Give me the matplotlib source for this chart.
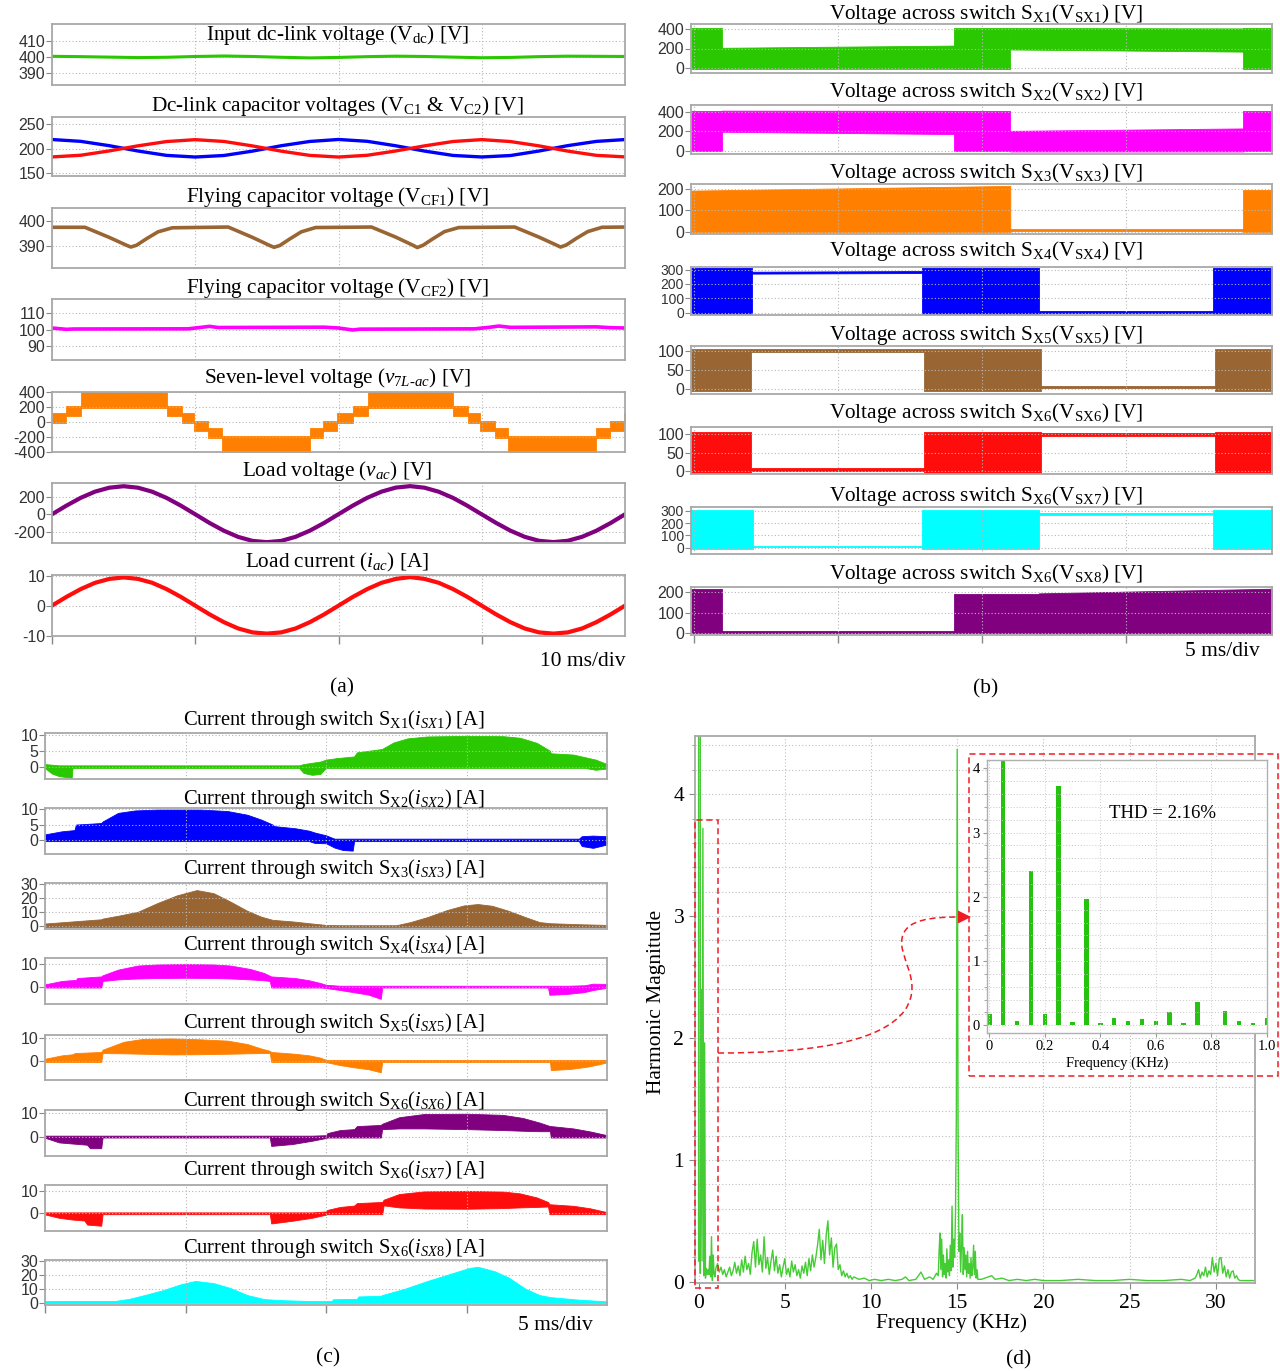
import numpy as np
import matplotlib
matplotlib.use("Agg")
import matplotlib.pyplot as plt
from matplotlib.patches import Rectangle, PathPatch, Polygon
from matplotlib.path import Path
from matplotlib.ticker import MultipleLocator

plt.rcParams["font.family"] = ["Liberation Serif", "DejaVu Serif"]
plt.rcParams["mathtext.fontset"] = "custom"
plt.rcParams["mathtext.rm"] = "Liberation Serif"
plt.rcParams["mathtext.it"] = "Liberation Serif:italic"
plt.rcParams["mathtext.bf"] = "Liberation Serif:bold"

W, H = 1280, 1371

GREEN = "#2ac800"
BLUE = "#0000ff"
RED = "#ff0d0d"
BROWN = "#996633"
MAGENTA = "#ff00ff"
ORANGE = "#ff8000"
PURPLE = "#800080"
CYAN = "#00ffff"

#--------------------------------------------------------------------#
# (a) converter waveforms, time in ms
t_2ms = np.arange(0, 40.1, 2.0)
t_1ms = np.arange(0, 40.1, 1.0)

vdc = [400.3, 400.1, 399.8, 399.5, 399.7, 400.2, 400.5, 400.2, 399.7, 399.3, 399.6,
       400.1, 400.4, 400.2, 399.8, 399.4, 399.6, 400.1, 400.4, 400.3, 400.2]

vc1 = [218.5, 214.8, 206.0, 195.2, 186.3, 183.0, 186.1, 195.0, 205.9, 214.6, 218.6,
       214.9, 205.8, 195.1, 186.2, 183.1, 186.0, 195.2, 206.1, 214.7, 218.4]
vc2 = [183.2, 186.6, 195.4, 205.7, 214.4, 218.2, 214.6, 205.5, 194.9, 186.3, 183.0,
       186.5, 195.3, 205.6, 214.5, 218.3, 214.4, 205.6, 195.0, 186.4, 183.3]

vcf1_t = [0, 2.3, 4.0, 5.2, 5.5, 5.9, 6.6, 7.4, 8.4, 12.3, 14.0, 15.2, 15.5, 15.9, 16.6,
          17.4, 18.4, 22.3, 24.0, 25.2, 25.5, 25.9, 26.6, 27.4, 28.4, 32.3, 34.0, 35.2,
          35.5, 35.9, 36.6, 37.4, 38.4, 40.0]
vcf1 = [397.4, 397.4, 393.4, 390.3, 389.6, 390.3, 392.9, 395.6, 397.2, 397.5, 393.4,
        390.2, 389.5, 390.2, 392.8, 395.6, 397.3, 397.5, 393.5, 390.3, 389.4, 390.3,
        392.9, 395.7, 397.3, 397.5, 393.5, 390.4, 389.6, 390.4, 393.0, 395.7, 397.4, 397.5]

vcf2_t = [0, 1.0, 1.5, 9.5, 10.2, 11.0, 11.6, 19.0, 20.0, 21.0, 21.5, 29.5, 30.5, 31.2,
          32.0, 38.0, 39.0, 40.0]
vcf2 = [101.0, 100.2, 100.4, 100.5, 101.2, 102.0, 101.3, 101.5, 101.0, 99.8, 100.3,
        100.5, 101.4, 102.2, 101.4, 101.7, 101.2, 101.0]

# seven-level output: each step is a PWM band between two levels
v7l_edges = [0.0, 1.0, 2.05, 8.0, 9.05, 9.9, 10.9, 11.9, 18.0, 18.95, 19.9, 21.0, 22.05,
             28.0, 29.05, 29.9, 30.9, 31.85, 38.0, 38.95, 39.9, 40.0]
v7l_lo = [-12, 80, 195, 80, -12, -120, -220, -400, -220, -120, -12, 80, 195, 80, -12,
          -120, -220, -400, -220, -120, -12]
v7l_hi = [120, 220, 400, 220, 120, 12, -80, -190, -80, 12, 120, 220, 400, 220, 120, 12,
          -80, -190, -80, 12, 120]

vac = [0, 100, 191, 263, 309, 326, 309, 262, 190, 100, 0, -101, -191, -263, -309, -324,
       -309, -262, -190, -100, 1, 101, 191, 263, 310, 327, 309, 262, 190, 99, -1, -100,
       -190, -262, -308, -323, -308, -262, -191, -101, 0]
iac = [0, 2.9, 5.5, 7.6, 8.9, 9.4, 8.9, 7.6, 5.5, 2.9, 0, -2.9, -5.5, -7.6, -8.9, -9.3,
       -8.9, -7.6, -5.5, -2.9, 0, 2.9, 5.5, 7.6, 8.9, 9.5, 8.9, 7.6, 5.5, 2.9, 0, -2.9,
       -5.5, -7.6, -8.9, -9.3, -8.9, -7.6, -5.5, -2.9, 0]

#--------------------------------------------------------------------#
# (b) switch voltages: segment edges (ms) and (start, end) of lower/upper envelope (V)
vsx1_edges = [-0.11, 0.95, 9.03, 10.98, 19.08, 20.07]
vsx1_lo = [(-8, -8), (-8, -8), (-8, -8), (190, 168), (-8, -8)]
vsx1_hi = [(408, 408), (207, 230), (410, 410), (410, 406), (406, 406)]

vsx2_edges = [-0.11, 0.95, 9.03, 10.98, 19.08, 20.07]
vsx2_lo = [(-8, -8), (194, 170), (-8, -8), (-8, -8), (-8, -8)]
vsx2_hi = [(408, 408), (410, 408), (408, 408), (203, 228), (408, 408)]

vsx3_edges = [-0.11, 10.98, 19.08, 20.07]
vsx3_lo = [(-3, -3), (4, 4), (-3, -3)]
vsx3_hi = [(192, 214), (12, 12), (196, 196)]

vsx4_edges = [-0.11, 2.02, 7.92, 11.97, 18.01, 20.07]
vsx4_lo = [(-6, -6), (272, 276), (-6, -6), (0, 0), (-6, -6)]
vsx4_hi = [(312, 312), (285, 290), (312, 312), (10, 10), (312, 312)]

vsx5_edges = [-0.11, 1.98, 7.99, 12.04, 18.08, 20.07]
vsx5_lo = [(-4, -4), (96, 96), (-4, -4), (2, 2), (-4, -4)]
vsx5_hi = [(104, 104), (104, 104), (104, 104), (8, 8), (104, 104)]

vsx6_edges = [-0.11, 1.98, 7.99, 12.04, 18.08, 20.07]
vsx6_lo = [(-4, -4), (1, 1), (-4, -4), (94, 94), (-4, -4)]
vsx6_hi = [(105, 105), (8, 8), (105, 105), (104, 104), (105, 105)]

vsx7_edges = [-0.11, 2.06, 7.92, 11.97, 18.01, 20.07]
vsx7_lo = [(-10, -10), (4, 4), (-10, -10), (268, 270), (-10, -10)]
vsx7_hi = [(310, 310), (18, 18), (310, 310), (284, 284), (310, 310)]

vsx8_edges = [-0.11, 0.95, 9.03, 11.97, 20.07]
vsx8_lo = [(-3, -3), (0, 0), (-3, -3), (-3, -3)]
vsx8_hi = [(216, 216), (8, 8), (193, 193), (195, 218)]

#--------------------------------------------------------------------#
# (c) switch currents: envelope keypoints (ms, A)
isx1_t = [0.0, 0.25, 0.5, 0.95, 0.98, 9.04, 9.2, 9.5, 9.8, 10.0, 10.4, 11.0, 11.1, 11.95,
          12.0, 12.4, 12.9, 13.6, 15.0, 16.3, 16.9, 17.5, 17.97, 18.0, 18.8, 19.2, 19.6, 20.0]
isx1_up = [0.8, 0.6, 0.4, 0.4, 0.4, 0.4, 0.8, 1.2, 1.6, 2.2, 2.7, 3.2, 4.5, 5.5, 5.6, 7.6,
           8.9, 9.5, 9.7, 9.6, 9.1, 7.5, 5.0, 4.2, 3.8, 3.0, 2.2, 0.8]
isx1_lo = [-0.5, -2.2, -3.0, -3.5, -0.4, -0.4, -2.0, -2.6, -2.3, -0.4, -0.4, -0.4, -0.4,
           -0.4, -0.4, -0.4, -0.4, -0.4, -0.4, -0.4, -0.4, -0.4, -0.4, -0.4, -0.4, -0.4,
           -1.0, -0.6]

isx2_t = [0.0, 0.6, 1.05, 1.1, 2.0, 2.05, 2.6, 3.2, 4.0, 5.5, 6.5, 7.2, 7.7, 8.1, 8.15,
          8.9, 9.4, 9.6, 10.0, 10.3, 10.6, 10.95, 11.0, 19.0, 19.1, 19.5, 20.0]
isx2_up = [1.8, 2.8, 3.2, 5.0, 5.5, 6.0, 8.8, 9.6, 9.9, 9.9, 9.4, 8.2, 6.6, 5.0, 4.5, 3.8,
           3.0, 2.4, 1.5, 0.4, 0.4, 0.4, 0.4, 0.4, 1.2, 1.4, 1.2]
isx2_lo = [-0.4, -0.4, -0.4, -0.4, -0.4, -0.4, -0.4, -0.4, -0.4, -0.4, -0.4, -0.4, -0.4,
           -0.4, -0.4, -0.4, -0.4, -1.0, -1.1, -2.5, -3.3, -3.5, -0.4, -0.4, -2.0, -2.6, -1.5]

isx3_t = [0.0, 1.0, 2.0, 2.05, 2.6, 3.3, 4.0, 4.7, 5.4, 6.0, 6.6, 7.2, 7.7, 8.1, 8.8, 9.5,
          10.0, 10.5, 12.5, 13.0, 13.6, 14.3, 14.9, 15.4, 15.9, 16.5, 17.1, 17.6, 18.0,
          19.0, 20.0]
isx3_up = [2.0, 3.5, 5.0, 5.5, 7.5, 10.3, 16.5, 22.0, 25.7, 23.5, 17.5, 11.0, 6.8, 4.6,
           3.5, 2.0, 1.0, 0.8, 0.8, 3.0, 6.5, 11.5, 14.8, 15.8, 14.6, 11.0, 6.5, 3.0, 2.2,
           1.5, 1.0]
isx3_lo = -0.4

isx4_t = [0.0, 0.6, 1.1, 1.15, 2.0, 2.05, 2.6, 3.3, 4.0, 5.0, 6.0, 6.6, 7.3, 7.8, 8.0,
          8.05, 8.9, 9.4, 9.8, 10.0, 10.5, 11.0, 11.5, 11.95, 12.0, 17.9, 17.95, 18.6,
          19.2, 19.5, 20.0]
isx4_up = [1.0, 2.5, 3.0, 3.8, 4.5, 5.0, 7.5, 9.3, 9.8, 10.0, 9.8, 9.3, 7.8, 6.0, 4.8,
           4.5, 3.8, 2.8, 1.6, 0.8, 0.4, 0.4, 0.4, 0.4, 0.4, 0.4, 0.4, 0.4, 0.6, 1.3, 1.2]
isx4_lo = [-0.4, -0.4, -0.4, -0.4, -0.4, 2.5, 3.2, 3.6, 3.8, 3.9, 3.8, 3.6, 3.2, 2.8, 2.5,
           -0.4, -0.4, -0.4, -0.4, -0.6, -1.5, -2.5, -3.5, -5.4, -0.4, -0.4, -3.6, -3.2,
           -2.4, -1.5, -0.5]

isx5_t = [0.0, 0.6, 1.0, 1.05, 2.0, 2.05, 2.8, 3.5, 4.5, 5.5, 6.5, 7.2, 7.7, 8.0, 8.05,
          8.9, 9.4, 9.8, 10.0, 10.5, 11.0, 11.5, 11.95, 12.0, 17.97, 18.0, 18.7, 19.3,
          19.7, 20.0]
isx5_up = [1.0, 2.5, 3.0, 3.5, 4.0, 5.0, 8.5, 9.8, 10.0, 9.6, 9.0, 7.5, 5.5, 4.5, 4.0,
           3.2, 2.5, 1.5, 0.5, 0.4, 0.4, 0.4, 0.4, 0.4, 0.4, 0.4, 0.4, 0.4, 0.4, 0.5]
isx5_lo = [-0.4, -0.4, -0.4, -0.4, -0.4, 3.5, 3.4, 3.2, 2.9, 3.0, 3.2, 3.4, 3.5, 3.5,
           -0.4, -0.4, -0.4, -0.4, -0.5, -1.8, -2.8, -3.6, -5.0, -0.4, -0.4, -4.0, -3.5,
           -2.5, -1.5, -0.6]

isx6_t = [0.0, 0.5, 1.0, 1.5, 1.6, 2.0, 2.05, 8.0, 8.05, 8.8, 9.5, 10.0, 10.05, 10.5,
          11.0, 11.1, 11.95, 12.0, 12.6, 13.5, 15.0, 16.3, 17.0, 17.6, 17.97, 18.0, 18.8,
          19.4, 20.0]
isx6_up = [0.4, 0.4, 0.4, 0.4, 0.4, 0.4, 0.4, 0.4, 0.4, 0.4, 0.4, 0.6, 1.5, 2.8, 3.2,
           4.5, 5.0, 5.5, 8.3, 9.7, 9.8, 9.3, 8.0, 6.0, 4.5, 4.5, 3.5, 2.2, 0.6]
isx6_lo = [-0.5, -2.5, -3.0, -3.5, -5.0, -5.0, -0.4, -0.4, -4.0, -3.2, -1.8, -0.6, -0.4,
           -0.4, -0.4, -0.4, -0.4, 3.2, 3.5, 3.5, 3.2, 2.8, 2.5, 2.3, 2.3, -0.4, -0.4,
           -0.4, -0.4]

isx7_t = [0.0, 0.5, 1.0, 1.4, 1.5, 2.0, 2.05, 8.0, 8.05, 8.8, 9.5, 10.0, 10.05, 10.5,
          11.0, 11.1, 12.0, 12.05, 12.6, 13.5, 15.0, 16.3, 16.9, 17.5, 17.9, 17.95, 18.8,
          19.4, 20.0]
isx7_up = [0.4, 0.4, 0.4, 0.4, 0.4, 0.4, 0.4, 0.4, 0.4, 0.4, 0.4, 0.8, 1.5, 2.8, 3.4,
           4.5, 5.0, 6.0, 8.5, 9.7, 9.9, 9.6, 8.8, 7.0, 5.0, 4.0, 3.3, 2.2, 0.5]
isx7_lo = [-0.5, -2.0, -2.8, -3.2, -5.0, -5.5, -0.4, -0.4, -4.5, -3.3, -2.0, -0.6, -0.4,
           -0.4, -0.4, -0.4, -0.4, 3.5, 2.6, 2.1, 2.0, 2.3, 2.6, 2.8, 3.0, -0.4, -0.4,
           -0.4, -0.4]

isx8_t = [0.0, 2.5, 3.0, 3.6, 4.2, 4.8, 5.35, 6.0, 6.6, 7.2, 7.8, 8.5, 9.5, 10.2, 10.25,
          11.1, 11.15, 11.95, 12.0, 12.8, 13.6, 14.4, 15.1, 15.4, 16.0, 16.5, 17.1, 17.6,
          18.0, 19.0, 20.0]
isx8_up = [1.2, 1.3, 2.8, 5.8, 9.0, 13.0, 15.6, 14.0, 10.5, 5.5, 2.6, 1.8, 1.2, 1.2, 2.5,
           2.8, 4.5, 5.0, 5.5, 10.0, 15.5, 20.5, 24.8, 25.7, 22.5, 18.0, 10.0, 5.5, 4.0,
           2.2, 1.0]
isx8_lo = -0.3

#--------------------------------------------------------------------#
# (d) output voltage spectrum (kHz, harmonic magnitude)
harm_freq = [0.0, 0.05, 0.10, 0.15, 0.20, 0.25, 0.30, 0.35, 0.40, 0.45, 0.50, 0.55,
             0.60, 0.65, 0.70, 0.75, 0.80, 0.85, 0.90, 0.95, 1.00]
harm_mag = [0.17, 325.0, 0.07, 2.40, 0.17, 3.72, 0.05, 1.96, 0.03, 0.11, 0.06, 0.10,
            0.06, 0.21, 0.04, 0.37, 0.01, 0.22, 0.06, 0.04, 0.11]

band1_freq = np.arange(1.1, 9.01, 0.1)
band1_mag = [0.15, 0.08, 0.12, 0.06, 0.10, 0.04, 0.08, 0.12, 0.05,
             0.09, 0.16, 0.07, 0.13, 0.05, 0.18, 0.08, 0.21, 0.10, 0.15,
             0.06, 0.24, 0.33, 0.12, 0.35, 0.14, 0.22, 0.08, 0.37, 0.11,
             0.20, 0.06, 0.17, 0.26, 0.09, 0.21, 0.07, 0.14, 0.04, 0.12,
             0.19, 0.06, 0.11, 0.04, 0.17, 0.08, 0.14, 0.05, 0.10, 0.03,
             0.13, 0.07, 0.16, 0.05, 0.19, 0.09, 0.22, 0.12, 0.20, 0.30,
             0.43, 0.18, 0.34, 0.15, 0.38, 0.50, 0.22, 0.36, 0.12, 0.28,
             0.31, 0.10, 0.14, 0.05, 0.09, 0.04, 0.07, 0.03, 0.05, 0.02,
             0.04]

floor_freq = [9.3, 9.6, 9.9, 10.2, 10.6, 11.0, 11.4, 11.8, 12.0, 12.2, 12.6, 12.9, 13.1,
              13.4, 13.6, 13.8]
floor_mag = [0.02, 0.03, 0.01, 0.02, 0.01, 0.02, 0.01, 0.02, 0.04, 0.01, 0.02, 0.08, 0.02,
             0.04, 0.02, 0.07]

band2_freq = np.arange(13.9, 16.21, 0.05)
band2_mag = [0.05, 0.25, 0.40, 0.10, 0.35, 0.04, 0.22, 0.06, 0.15, 0.03,
             0.27, 0.08, 0.18, 0.05, 0.30, 0.09, 0.62, 0.12, 0.35, 0.20,
             0.55, 1.35, 4.37, 1.30, 0.25, 0.40, 0.08, 0.30, 0.55, 0.06,
             0.28, 0.10, 0.22, 0.04, 0.25, 0.07, 0.15, 0.03, 0.20, 0.05,
             0.12, 0.30, 0.06, 0.25, 0.03, 0.10, 0.02]

tail_freq = [16.4, 16.8, 17.0, 17.2, 17.6, 18.0, 18.5, 19.0, 19.5, 20.0, 21.0, 22.0, 23.0,
             24.0, 25.0, 26.0, 27.0, 28.0, 28.5]
tail_mag = [0.02, 0.04, 0.05, 0.02, 0.03, 0.01, 0.02, 0.01, 0.02, 0.01, 0.01, 0.02, 0.01,
            0.01, 0.02, 0.01, 0.01, 0.02, 0.01]

band3_freq = np.arange(28.8, 31.41, 0.1)
band3_mag = [0.03, 0.06, 0.10, 0.03, 0.08, 0.05, 0.12, 0.04, 0.09, 0.06,
             0.20, 0.08, 0.15, 0.05, 0.19, 0.20, 0.07, 0.13, 0.04, 0.10,
             0.03, 0.08, 0.09, 0.03, 0.05, 0.02, 0.01]

end_freq = [31.6, 32.2]
end_mag = [0.01, 0.01]

#--------------------------------------------------------------------#

fig = plt.figure(figsize=(W / 100, H / 100), dpi=100, facecolor="white")


def px_rect(x0, y0, x1, y1):
    return [x0 / W, 1 - y1 / H, (x1 - x0) / W, (y1 - y0) / H]


def fxy(x, y):
    return (x / W, 1 - y / H)


def trace_axes(x0, y0, x1, y1, xlim, ylim, yticks, xticks, bottom=False, tsize=11.5):
    ax = fig.add_axes(px_rect(x0, y0, x1, y1))
    ax.set_xlim(*xlim)
    ax.set_ylim(*ylim)
    ax.set_yticks(yticks)
    ax.set_yticklabels([str(v) for v in yticks], family="Liberation Sans",
                       fontsize=tsize, color="#333333")
    ax.set_xticks(xticks)
    ax.grid(True, ls=(0, (1, 2)), color="#b8b8b8", lw=0.8)
    ax.tick_params(axis="y", length=4, width=0.8, color="#888888", pad=1)
    ax.tick_params(axis="x", labelbottom=False, length=6 if bottom else 0,
                   width=1.0, color="#888888")
    for s in ax.spines.values():
        s.set_color("#a8a8a8")
        s.set_linewidth(1.3)
    return ax


def title(x, y, s, size=15.3):
    fig.text(x / W, 1 - y / H, s, ha="center", va="center", fontsize=size)


def draw_segments(ax, edges, lo, hi, color):
    for i in range(len(edges) - 1):
        ax.fill_between([edges[i], edges[i + 1]], lo[i], hi[i],
                        color=color, lw=0.6, ec=color)


#--------------------------------------------------------------------#
# panel (a)
AX0, AX1 = 52, 625
grid_a = [0, 10, 20, 30]
xl_a = (0, 40)

ax = trace_axes(AX0, 24.3, AX1, 85, xl_a, (382.2, 420.5), [410, 400, 390], grid_a)
ax.plot(t_2ms, vdc, color=GREEN, lw=2.2)
title(337, 35, r"Input dc-link voltage (V$_{\rm dc}$) [V]")

ax = trace_axes(AX0, 116.7, AX1, 176, xl_a, (144.5, 264.8), [250, 200, 150], grid_a)
ax.plot(t_2ms, vc1, color=BLUE, lw=2.4)
ax.plot(t_2ms, vc2, color=RED, lw=2.4)
title(337, 106, r"Dc-link capacitor voltages (V$_{\rm C1}$ & V$_{\rm C2}$) [V]")

ax = trace_axes(AX0, 208.3, AX1, 268.3, xl_a, (381.2, 404.9), [400, 390], grid_a)
ax.plot(vcf1_t, vcf1, color=BROWN, lw=2.6)
title(337, 197, r"Flying capacitor voltage (V$_{\rm CF1}$) [V]")

ax = trace_axes(AX0, 299.3, AX1, 360, xl_a, (81.5, 118.5), [110, 100, 90], grid_a)
ax.plot(vcf2_t, vcf2, color=MAGENTA, lw=2.6)
title(337, 288, r"Flying capacitor voltage (V$_{\rm CF2}$) [V]")

ax = trace_axes(AX0, 391.7, AX1, 451.7, xl_a, (-400, 408),
                [400, 200, 0, -200, -400], grid_a)
for i in range(len(v7l_edges) - 1):
    ax.fill_between([v7l_edges[i], v7l_edges[i + 1]], v7l_lo[i], v7l_hi[i],
                    color=ORANGE, lw=0.6, ec=ORANGE)
title(337, 378, r"Seven-level voltage ($v_{7L\text{-}ac}$) [V]")

ax = trace_axes(AX0, 483.3, AX1, 543.3, xl_a, (-337, 360), [200, 0, -200], grid_a)
ax.plot(t_1ms, vac, color=PURPLE, lw=3.0)
title(337, 471, r"Load voltage ($v_{ac}$) [V]")

ax = trace_axes(AX0, 575, AX1, 635.7, xl_a, (-10, 10.2), [10, 0, -10], grid_a,
                bottom=True)
ax.plot(t_1ms, iac, color=RED, lw=3.0)
title(337, 562, r"Load current ($i_{ac}$) [A]")

fig.text(625 / W, 1 - 661 / H, "10 ms/div", ha="right", va="center", fontsize=15.5)
fig.text(342 / W, 1 - 688 / H, "(a)", ha="center", va="center", fontsize=15.5)

#--------------------------------------------------------------------#
# panel (b)
BX0, BX1 = 691, 1272
grid_b = [0, 5, 10, 15]
xl_b = (-0.11, 20.07)

rows_b = [
    (24, 73, (-51, 451), [400, 200, 0], vsx1_edges, vsx1_lo, vsx1_hi, GREEN, 14,
     r"Voltage across switch S$_{\rm X1}$(V$_{\rm SX1}$) [V]"),
    (105, 154, (-34, 468), [400, 200, 0], vsx2_edges, vsx2_lo, vsx2_hi, MAGENTA, 92,
     r"Voltage across switch S$_{\rm X2}$(V$_{\rm SX2}$) [V]"),
    (184, 234, (-11, 223), [200, 100, 0], vsx3_edges, vsx3_lo, vsx3_hi, ORANGE, 173,
     r"Voltage across switch S$_{\rm X3}$(V$_{\rm SX3}$) [V]"),
    (267, 315, (-16, 318), [300, 200, 100, 0], vsx4_edges, vsx4_lo, vsx4_hi, BLUE, 251,
     r"Voltage across switch S$_{\rm X4}$(V$_{\rm SX4}$) [V]"),
    (345.7, 394, (-13, 113), [100, 50, 0], vsx5_edges, vsx5_lo, vsx5_hi, BROWN, 335,
     r"Voltage across switch S$_{\rm X5}$(V$_{\rm SX5}$) [V]"),
    (426.7, 474, (-7, 120), [100, 50, 0], vsx6_edges, vsx6_lo, vsx6_hi, RED, 413,
     r"Voltage across switch S$_{\rm X6}$(V$_{\rm SX6}$) [V]"),
    (506.7, 554, (-51, 335), [300, 200, 100, 0], vsx7_edges, vsx7_lo, vsx7_hi, CYAN, 496,
     r"Voltage across switch S$_{\rm X6}$(V$_{\rm SX7}$) [V]"),
    (586.7, 635, (-11, 228), [200, 100, 0], vsx8_edges, vsx8_lo, vsx8_hi, PURPLE, 574,
     r"Voltage across switch S$_{\rm X6}$(V$_{\rm SX8}$) [V]"),
]
for k, (y0, y1, yl, yt, ed, lo, hi, c, ty, txt) in enumerate(rows_b):
    # the 300/200/100/0 scales are packed tight, so their labels are a touch smaller
    ts = 10.0 if len(yt) == 4 else 11.5
    ax = trace_axes(BX0, y0, BX1, y1, xl_b, yl, yt, grid_b,
                    bottom=(k == len(rows_b) - 1), tsize=ts)
    draw_segments(ax, ed, lo, hi, c)
    title(986, ty, txt)

fig.text(1260 / W, 1 - 652 / H, "5 ms/div", ha="right", va="center", fontsize=15.5)
fig.text(986 / W, 1 - 689 / H, "(b)", ha="center", va="center", fontsize=15.5)

#--------------------------------------------------------------------#
# panel (c)
CX0, CX1 = 45, 607
grid_c = [0, 5, 10, 15]
xl_c = (0, 20)

rows_c = [
    (733.3, 779.3, (-4, 10.5), [10, 5, 0], isx1_t, isx1_lo, isx1_up, GREEN, 720,
     r"Current through switch S$_{\rm X1}$($i_{SX1}$) [A]"),
    (808.3, 854, (-4.6, 10.3), [10, 5, 0], isx2_t, isx2_lo, isx2_up, BLUE, 799,
     r"Current through switch S$_{\rm X2}$($i_{SX2}$) [A]"),
    (883.3, 929.3, (-2.1, 30.5), [30, 20, 10, 0], isx3_t, isx3_lo, isx3_up, BROWN, 869,
     r"Current through switch S$_{\rm X3}$($i_{SX3}$) [A]"),
    (958.3, 1004.3, (-7.8, 12.5), [10, 0], isx4_t, isx4_lo, isx4_up, MAGENTA, 945,
     r"Current through switch S$_{\rm X4}$($i_{SX4}$) [A]"),
    (1035, 1080, (-8.4, 11.5), [10, 0], isx5_t, isx5_lo, isx5_up, ORANGE, 1023,
     r"Current through switch S$_{\rm X5}$($i_{SX5}$) [A]"),
    (1110, 1155.7, (-8.2, 11.4), [10, 0], isx6_t, isx6_lo, isx6_up, PURPLE, 1101,
     r"Current through switch S$_{\rm X6}$($i_{SX6}$) [A]"),
    (1185, 1230.7, (-7.7, 12.5), [10, 0], isx7_t, isx7_lo, isx7_up, RED, 1170,
     r"Current through switch S$_{\rm X6}$($i_{SX7}$) [A]"),
    (1260, 1305, (-1.6, 30.5), [30, 20, 10, 0], isx8_t, isx8_lo, isx8_up, CYAN, 1248,
     r"Current through switch S$_{\rm X6}$($i_{SX8}$) [A]"),
]
for k, (y0, y1, yl, yt, tt, lo, up, c, ty, txt) in enumerate(rows_c):
    ax = trace_axes(CX0, y0, CX1, y1, xl_c, yl, yt, grid_c, bottom=(k == len(rows_c) - 1))
    ax.fill_between(tt, lo, up, color=c, lw=0.6, ec=c)
    title(334, ty, txt, size=14.8)

fig.text(593 / W, 1 - 1326 / H, "5 ms/div", ha="right", va="center", fontsize=15.5)
fig.text(328 / W, 1 - 1358 / H, "(c)", ha="center", va="center", fontsize=15.5)

#--------------------------------------------------------------------#
# panel (d): spectrum with zoomed inset of the low-order harmonics
freq_all = np.concatenate([harm_freq, band1_freq, floor_freq, band2_freq, tail_freq,
                           band3_freq, end_freq])
mag_all = np.concatenate([harm_mag, band1_mag, floor_mag, band2_mag, tail_mag,
                          band3_mag, end_mag])

axd = fig.add_axes(px_rect(695.3, 735.7, 1254.8, 1283))
axd.plot(freq_all, mag_all, color="#45cc35", lw=1.0)
axd.set_xlim(-0.19, 32.26)
axd.set_ylim(-0.01, 4.48)
axd.xaxis.set_major_locator(MultipleLocator(5))
axd.yaxis.set_major_locator(MultipleLocator(1))
axd.yaxis.set_minor_locator(MultipleLocator(0.2))
axd.grid(True, which="both", axis="y", ls=(0, (1, 2)), color="#c0c0c0", lw=0.8)
axd.grid(True, which="major", axis="x", ls=(0, (1, 2)), color="#c0c0c0", lw=0.8)
axd.tick_params(axis="both", which="major", labelsize=15.5, length=4, color="#888888",
                pad=4)
axd.tick_params(axis="y", which="minor", length=2.5, color="#888888")
for s in axd.spines.values():
    s.set_color("#a8a8a8")
    s.set_linewidth(1.3)
fig.text(656 / W, 1 - 1002 / H, "Harmonic Magnitude", rotation=90, ha="center",
         va="center", fontsize=15.5)
fig.text(952 / W, 1 - 1323 / H, "Frequency (KHz)", ha="center", va="center",
         fontsize=15.5)
fig.text(1019 / W, 1 - 1360 / H, "(d)", ha="center", va="center", fontsize=15.5)

axi = fig.add_axes(px_rect(986.7, 760, 1267.3, 1032.7))
axi.set_facecolor("white")
axi.bar(harm_freq, harm_mag, width=0.016, color="#25c20f")
axi.set_xlim(-0.0094, 1.002)
axi.set_ylim(-0.115, 4.13)
axi.yaxis.set_major_locator(MultipleLocator(1))
axi.yaxis.set_minor_locator(MultipleLocator(0.2))
axi.set_xticks([0, 0.2, 0.4, 0.6, 0.8, 1.0])
axi.set_xticklabels(["0", "0.2", "0.4", "0.6", "0.8", "1.0"])
axi.grid(True, which="both", axis="y", ls=(0, (1, 2)), color="#c8c8c8", lw=0.7)
axi.grid(True, which="major", axis="x", ls=(0, (1, 2)), color="#c8c8c8", lw=0.7)
axi.tick_params(axis="both", which="major", labelsize=10.5, length=3, color="#999999",
                pad=2)
axi.tick_params(axis="y", which="minor", length=2, color="#999999")
for s in axi.spines.values():
    s.set_color("#b0b0b0")
    s.set_linewidth(1.0)
axi.text(0.626, 3.3, "THD = 2.16%", ha="center", va="center", fontsize=13.5)
fig.text(1117 / W, 1 - 1063 / H, "Frequency (KHz)", ha="center", va="center",
         fontsize=10.5)

# dashed call-out boxes and the curved pointer between them
dash = (0, (4, 2.5))
fig.add_artist(Rectangle(fxy(969, 1076), 309 / W, 322 / H, transform=fig.transFigure,
                         fill=False, ec="#ee1c24", ls=dash, lw=1.1))
fig.add_artist(Rectangle(fxy(694.5, 1288), 23.5 / W, 468 / H, transform=fig.transFigure,
                         fill=False, ec="#ee1c24", ls=dash, lw=1.1))

curve = Path([fxy(718, 1053), fxy(800, 1053), fxy(880, 1045), fxy(905, 1010),
              fxy(925, 980), fxy(895, 955), fxy(903, 935),
              fxy(908, 920), fxy(930, 917), fxy(959, 917)],
             [Path.MOVETO] + [Path.CURVE4] * 9)
fig.add_artist(PathPatch(curve, transform=fig.transFigure, fill=False, ec="#ee1c24",
                         ls=dash, lw=1.1))
fig.add_artist(Polygon([fxy(971, 917), fxy(958, 910.5), fxy(958, 923.5)], closed=True,
                       transform=fig.transFigure, fc="#ee1c24", ec="none"))

fig.savefig("out.png", dpi=100, facecolor="white")
